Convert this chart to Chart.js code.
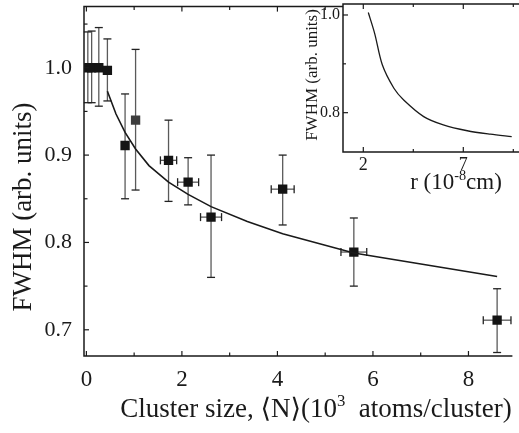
<!DOCTYPE html>
<html lang="en">
<head>
    <meta charset="UTF-8">
    <title>FWHM vs cluster size</title>
    <script src="https://cdn.jsdelivr.net/npm/chart.js"></script>
    <style>
        html, body { margin: 0; padding: 0; background: #fff; }
        #wrap { position: relative; width: 519px; height: 433px; }
        #mainChart { position: absolute; left: 0; top: 0; }
        #insetChart { position: absolute; left: 290px; top: 0; }
    </style>
</head>
<body>
<div id="wrap">
    <canvas id="mainChart" width="519" height="433"></canvas>
    <canvas id="insetChart" width="229" height="195"></canvas>
</div>
<script>
    // measured line width vs mean cluster size (10^3 atoms/cluster)
    const clusterSize = [0.03, 0.11, 0.26, 0.44, 0.81, 1.03, 1.72, 2.13, 2.61, 4.11, 5.6, 8.6];
    const fwhm        = [1.0, 1.0, 1.0, 0.997, 0.911, 0.94, 0.894, 0.869, 0.829, 0.861, 0.789, 0.711];
    const fwhmLow     = [0.96, 0.96, 0.956, 0.962, 0.85, 0.86, 0.847, 0.843, 0.76, 0.82, 0.75, 0.674];
    const fwhmHigh    = [1.041, 1.042, 1.046, 1.033, 0.97, 1.021, 0.94, 0.897, 0.90, 0.90, 0.828, 0.747];
    const sizeErr     = [0, 0, 0, 0, 0, 0, 0.17, 0.22, 0.22, 0.24, 0.27, 0.29];

    // model curve
    const modelSize = [0.44, 0.62, 0.81, 1.03, 1.31, 1.72, 2.13, 2.61, 3.37, 4.11, 5.6, 8.6];
    const modelFwhm = [0.973, 0.947, 0.926, 0.907, 0.888, 0.869, 0.855, 0.841, 0.824, 0.810, 0.788, 0.761];

    // inset: width vs radius r (10^-8 cm)
    const insetR    = [2.25, 2.57, 2.95, 3.53, 4.02, 5.02, 6.0, 7.2, 8.35, 9.42];
    const insetFwhm = [1.005, 0.962, 0.898, 0.85, 0.826, 0.792, 0.775, 0.763, 0.756, 0.751];

    // tick positions
    const mainXMajor = [0, 2, 4, 6, 8];
    const mainXMinor = [1, 3, 5, 7];
    const mainYMajor = [0.7, 0.8, 0.9, 1.0];
    const mainYMinor = [0.75, 0.85, 0.95, 1.05];
    const insetXMajor = [2, 7];
    const insetXMinor = [4.5, 9.5];
    const insetYMajor = [0.8, 1.0];
    const insetYMinor = [0.9];

    const serif = "'Liberation Serif', 'DejaVu Serif', serif";
    const ink = '#1a1a1a';

    function line(ctx, x1, y1, x2, y2) {
        ctx.beginPath();
        ctx.moveTo(x1, y1);
        ctx.lineTo(x2, y2);
        ctx.stroke();
    }

    // text with superscript pieces, drawn left to right from x
    function drawRich(ctx, parts, x, y, size) {
        parts.forEach(p => {
            const s = p.sup ? size * 0.62 : size;
            ctx.font = s + 'px ' + serif;
            ctx.fillText(p.t, x, p.sup ? y - size * 0.4 : y);
            x += ctx.measureText(p.t).width;
        });
    }

    function richWidth(ctx, parts, size) {
        let w = 0;
        parts.forEach(p => {
            ctx.font = (p.sup ? size * 0.62 : size) + 'px ' + serif;
            w += ctx.measureText(p.t).width;
        });
        return w;
    }

    // keep the plot box fixed: no extra room for half-labels at the ends
    function noPad(s) {
        s.paddingTop = 0;
        s.paddingBottom = 0;
        s.paddingLeft = 0;
        s.paddingRight = 0;
    }

    // axis box with inward ticks on bottom, top and left
    function framePlugin(cfg) {
        return {
            id: 'frame',
            beforeDraw(chart) {
                if (!cfg.fill) return;
                const { ctx, chartArea: a } = chart;
                ctx.save();
                ctx.fillStyle = '#fff';
                ctx.fillRect(a.left, a.top, a.right - a.left, a.bottom - a.top);
                ctx.restore();
            },
            afterDraw(chart) {
                const { ctx, chartArea: a, scales: { x, y } } = chart;
                ctx.save();
                ctx.strokeStyle = ink;
                ctx.lineWidth = 1.5;
                ctx.beginPath();
                ctx.moveTo(a.right, a.top);
                ctx.lineTo(a.left, a.top);
                ctx.lineTo(a.left, a.bottom);
                ctx.lineTo(a.right, a.bottom);
                ctx.stroke();
                ctx.lineWidth = 1.2;
                const xt = (vals, len) => vals.forEach(v => {
                    const p = x.getPixelForValue(v);
                    line(ctx, p, a.bottom, p, a.bottom - len);
                    line(ctx, p, a.top, p, a.top + len);
                });
                const yt = (vals, len) => vals.forEach(v => {
                    const p = y.getPixelForValue(v);
                    line(ctx, a.left, p, a.left + len, p);
                });
                xt(cfg.xMajor, cfg.major);
                xt(cfg.xMinor, cfg.minor);
                yt(cfg.yMajor, cfg.major);
                yt(cfg.yMinor, cfg.minor);
                ctx.restore();
            }
        };
    }

    const errorBars = {
        id: 'errorBars',
        beforeDatasetsDraw(chart) {
            const { ctx, scales: { x, y } } = chart;
            const cap = 4;
            ctx.save();
            ctx.lineWidth = 1.3;
            clusterSize.forEach((n, i) => {
                const cx = x.getPixelForValue(n);
                const cy = y.getPixelForValue(fwhm[i]);
                const top = y.getPixelForValue(fwhmHigh[i]);
                const bot = y.getPixelForValue(fwhmLow[i]);
                ctx.strokeStyle = '#5a5a5a';
                line(ctx, cx, top, cx, bot);
                ctx.strokeStyle = '#222';
                line(ctx, cx - cap, top, cx + cap, top);
                line(ctx, cx - cap, bot, cx + cap, bot);
                if (sizeErr[i] > 0) {
                    const l = x.getPixelForValue(n - sizeErr[i]);
                    const r = x.getPixelForValue(n + sizeErr[i]);
                    ctx.strokeStyle = '#5a5a5a';
                    line(ctx, l, cy, r, cy);
                    ctx.strokeStyle = '#222';
                    line(ctx, l, cy - cap, l, cy + cap);
                    line(ctx, r, cy - cap, r, cy + cap);
                }
            });
            ctx.restore();
        }
    };

    const mainTitles = {
        id: 'mainTitles',
        afterDraw(chart) {
            const ctx = chart.ctx;
            ctx.save();
            ctx.fillStyle = ink;
            ctx.textBaseline = 'alphabetic';
            const xt = [
                { t: 'Cluster size, \u27E8N\u27E9(10' },
                { t: '3', sup: true },
                { t: '  atoms/cluster)' }
            ];
            const w = richWidth(ctx, xt, 27);
            drawRich(ctx, xt, 316 - w / 2, 417, 27);
            ctx.translate(31, 207);
            ctx.rotate(-Math.PI / 2);
            ctx.textAlign = 'center';
            ctx.font = '27px ' + serif;
            ctx.fillText('FWHM (arb. units)', 0, 0);
            ctx.restore();
        }
    };

    const insetTitles = {
        id: 'insetTitles',
        afterDraw(chart) {
            const ctx = chart.ctx;
            ctx.save();
            ctx.fillStyle = ink;
            const xt = [
                { t: 'r (10' },
                { t: '-8', sup: true },
                { t: 'cm)' }
            ];
            const w = richWidth(ctx, xt, 23);
            drawRich(ctx, xt, 166 - w / 2, 189, 23);
            ctx.translate(27, 75);
            ctx.rotate(-Math.PI / 2);
            ctx.textAlign = 'center';
            ctx.font = '17px ' + serif;
            ctx.fillText('FWHM (arb. units)', 0, 0);
            ctx.restore();
        }
    };

    new Chart(document.getElementById('mainChart'), {
        type: 'scatter',
        data: {
            datasets: [
                {
                    label: 'model',
                    data: modelSize.map((n, i) => ({ x: n, y: modelFwhm[i] })),
                    showLine: true,
                    tension: 0,
                    borderColor: ink,
                    borderWidth: 1.6,
                    pointRadius: 0
                },
                {
                    label: 'data',
                    data: clusterSize.map((n, i) => ({ x: n, y: fwhm[i] })),
                    pointStyle: 'rect',
                    pointRadius: 6.6,
                    backgroundColor: clusterSize.map((n, i) => i === 5 ? '#3c3c3c' : '#141414'),
                    borderWidth: 0
                }
            ]
        },
        options: {
            responsive: false,
            animation: false,
            layout: { padding: { top: 4, right: 0, left: 0, bottom: 0 } },
            plugins: { legend: { display: false }, tooltip: { enabled: false } },
            scales: {
                x: {
                    type: 'linear',
                    min: -0.05,
                    max: 8.92,
                    afterBuildTicks: s => { s.ticks = mainXMajor.map(v => ({ value: v })); },
                    afterFit: s => { s.height = 77; noPad(s); },
                    grid: { display: false, drawTicks: false },
                    border: { display: false },
                    ticks: { color: ink, font: { family: serif, size: 23 }, padding: 10, maxRotation: 0 }
                },
                y: {
                    min: 0.67,
                    max: 1.07,
                    afterBuildTicks: s => { s.ticks = mainYMajor.map(v => ({ value: v })); },
                    afterFit: s => { s.width = 84; noPad(s); },
                    grid: { display: false, drawTicks: false },
                    border: { display: false },
                    ticks: { color: ink, font: { family: serif, size: 22 }, padding: 12, callback: v => v.toFixed(1) }
                }
            }
        },
        plugins: [errorBars, framePlugin({ xMajor: mainXMajor, xMinor: mainXMinor, yMajor: mainYMajor, yMinor: mainYMinor, major: 5, minor: 3.5 }), mainTitles]
    });

    new Chart(document.getElementById('insetChart'), {
        type: 'scatter',
        data: {
            datasets: [{
                label: 'r dependence',
                data: insetR.map((r, i) => ({ x: r, y: insetFwhm[i] })),
                showLine: true,
                tension: 0.3,
                borderColor: ink,
                borderWidth: 1.3,
                pointRadius: 0
            }]
        },
        options: {
            responsive: false,
            animation: false,
            layout: { padding: { top: 4, right: 0, left: 0, bottom: 0 } },
            plugins: { legend: { display: false }, tooltip: { enabled: false } },
            scales: {
                x: {
                    type: 'linear',
                    min: 0.985,
                    max: 9.785,
                    afterBuildTicks: s => { s.ticks = insetXMajor.map(v => ({ value: v })); },
                    afterFit: s => { s.height = 43; noPad(s); },
                    grid: { display: false, drawTicks: false },
                    border: { display: false },
                    ticks: { color: ink, font: { family: serif, size: 18 }, padding: 2, maxRotation: 0 }
                },
                y: {
                    min: 0.7195,
                    max: 1.0225,
                    afterBuildTicks: s => { s.ticks = insetYMajor.map(v => ({ value: v })); },
                    afterFit: s => { s.width = 53; noPad(s); },
                    grid: { display: false, drawTicks: false },
                    border: { display: false },
                    ticks: { color: ink, font: { family: serif, size: 16 }, padding: 3, callback: v => v.toFixed(1) }
                }
            }
        },
        plugins: [framePlugin({ fill: true, xMajor: insetXMajor, xMinor: insetXMinor, yMajor: insetYMajor, yMinor: insetYMinor, major: 5, minor: 3 }), insetTitles]
    });
</script>
</body>
</html>
